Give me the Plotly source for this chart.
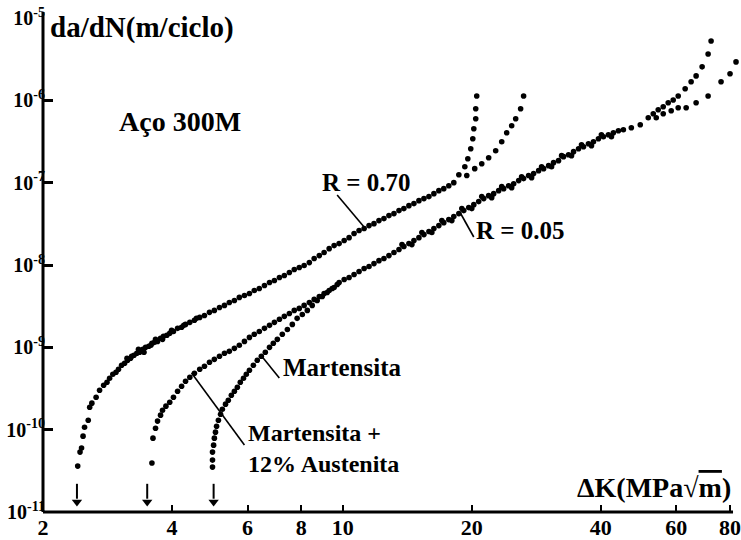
import numpy as np
import plotly.graph_objects as go

# ---- Data: ΔK (MPa√m) vs da/dN (m/ciclo), Aço 300M ----

# R = 0.70, common trunk
r070_dk = [2.41, 2.44, 2.46, 2.48, 2.50, 2.55, 2.57, 2.60, 2.66, 2.71, 2.77, 2.82, 2.86, 2.91,
           2.96, 3.00, 3.05, 3.10, 3.15, 3.20, 3.26, 3.31, 3.36, 3.42, 3.47, 3.53, 3.59, 3.64,
           3.70, 3.76, 3.82, 3.89, 3.95, 4.03, 4.12, 4.21, 4.30, 4.40, 4.51, 4.64, 4.76, 4.89,
           5.02, 5.16, 5.30, 5.44, 5.59, 5.74, 5.90, 6.06, 6.22, 6.39, 6.57, 6.75, 6.93, 7.12,
           7.31, 7.51, 7.71, 7.92, 8.13, 8.36, 8.58, 8.82, 9.05, 9.30, 9.55, 9.81, 10.08, 10.35,
           10.63, 10.92, 11.22, 11.52, 11.83, 12.15, 12.48, 12.82, 13.17, 13.53, 13.89, 14.27,
           14.66, 15.06, 15.47, 15.89, 16.32, 16.76, 17.21, 17.68, 18.16,
           3.14, 3.22, 3.34, 3.44, 3.57, 3.66, 3.80, 3.99, 4.26, 4.56]
r070_dadn = [3.61e-11, 5.34e-11, 5.97e-11, 8.34e-11, 1.07e-10, 1.30e-10, 1.87e-10, 2.10e-10,
             2.48e-10, 3.01e-10, 3.46e-10, 3.77e-10, 4.21e-10, 4.71e-10, 4.98e-10, 5.41e-10,
             6.05e-10, 6.40e-10, 6.96e-10, 7.36e-10, 8.00e-10, 8.46e-10, 8.70e-10, 9.46e-10,
             1.00e-9, 1.03e-9, 1.12e-9, 1.15e-9, 1.18e-9, 1.29e-9, 1.36e-9, 1.40e-9, 1.48e-9,
             1.56e-9, 1.70e-9, 1.75e-9, 1.90e-9, 2.01e-9, 2.13e-9, 2.31e-9, 2.44e-9, 2.66e-9,
             2.81e-9, 3.05e-9, 3.23e-9, 3.51e-9, 3.71e-9, 4.04e-9, 4.27e-9, 4.51e-9, 4.91e-9,
             5.19e-9, 5.64e-9, 6.14e-9, 6.49e-9, 7.06e-9, 7.46e-9, 8.11e-9, 8.82e-9, 9.33e-9,
             9.86e-9, 1.07e-8, 1.20e-8, 1.30e-8, 1.42e-8, 1.58e-8, 1.72e-8, 1.82e-8, 1.98e-8,
             2.15e-8, 2.41e-8, 2.62e-8, 2.77e-8, 3.01e-8, 3.18e-8, 3.46e-8, 3.66e-8, 3.98e-8,
             4.21e-8, 4.58e-8, 4.84e-8, 5.26e-8, 5.57e-8, 6.05e-8, 6.40e-8, 6.77e-8, 7.36e-8,
             8.00e-8, 8.46e-8, 9.19e-8, 1.00e-7,
             7.36e-10, 7.78e-10, 9.46e-10, 8.70e-10, 1.06e-9, 1.25e-9, 1.25e-9, 1.61e-9,
             1.85e-9, 2.25e-9]

# R = 0.70, branch that turns up near ΔK ≈ 20.5
r070_a_dk = [18.66, 19.27, 19.58, 19.89, 20.11, 20.22, 20.43, 20.43, 20.54]
r070_a_dadn = [1.25e-7, 1.56e-7, 1.95e-7, 2.58e-7, 3.41e-7, 4.51e-7, 5.97e-7, 7.89e-7, 1.13e-6]

# R = 0.70, branch that turns up near ΔK ≈ 26
r070_b_dk = [19.47, 20.32, 21.10, 21.90, 22.74, 23.49, 24.13, 24.78, 25.32, 26.00, 26.42]
r070_b_dadn = [1.22e-7, 1.48e-7, 1.70e-7, 2.01e-7, 2.44e-7, 3.14e-7, 4.04e-7, 4.91e-7, 5.97e-7,
               7.89e-7, 1.13e-6]

# R = 0.05, Martensita + 12% Austenita (near-threshold part)
aust_dk = [3.59, 3.61, 3.66, 3.70, 3.76, 3.80, 3.87, 3.95, 4.03, 4.12, 4.21, 4.30, 4.40, 4.51,
           4.64, 4.76, 4.89, 5.02, 5.16, 5.30, 5.44, 5.59, 5.74, 5.90, 6.06, 6.22, 6.39, 6.57,
           6.75, 6.93, 7.12, 7.31, 7.51, 7.71, 7.92, 8.13, 8.36, 8.58, 8.82, 9.05, 9.30, 9.55]
aust_dadn = [3.93e-11, 7.89e-11, 1.04e-10, 1.27e-10, 1.50e-10, 1.72e-10, 1.93e-10, 2.15e-10,
             2.48e-10, 2.93e-10, 3.37e-10, 3.87e-10, 4.33e-10, 4.84e-10, 5.41e-10, 5.89e-10,
             6.58e-10, 7.15e-10, 7.78e-10, 8.46e-10, 8.94e-10, 9.72e-10, 1.06e-9, 1.18e-9,
             1.32e-9, 1.44e-9, 1.56e-9, 1.70e-9, 1.85e-9, 2.01e-9, 2.19e-9, 2.38e-9, 2.58e-9,
             2.81e-9, 2.97e-9, 3.23e-9, 3.51e-9, 3.82e-9, 4.15e-9, 4.51e-9, 4.91e-9, 5.34e-9]

# R = 0.05, Martensita (near-threshold part)
mart_dk = [4.97, 4.97, 4.97, 5.00, 5.02, 5.05, 5.08, 5.13, 5.19, 5.24, 5.33, 5.41, 5.50, 5.59,
           5.68, 5.77, 5.87, 5.96, 6.06, 6.19, 6.32, 6.46, 6.60, 6.75, 6.89, 7.04, 7.23, 7.43,
           7.63, 7.83, 8.05, 8.27, 8.49, 8.72, 8.96, 9.20, 9.45, 9.71]
mart_dadn = [3.51e-11, 4.27e-11, 5.34e-11, 6.49e-11, 7.89e-11, 9.33e-11, 1.10e-10, 1.30e-10,
             1.54e-10, 1.77e-10, 2.04e-10, 2.28e-10, 2.62e-10, 2.93e-10, 3.27e-10, 3.77e-10,
             4.21e-10, 4.71e-10, 5.26e-10, 6.05e-10, 6.96e-10, 7.78e-10, 8.70e-10, 1.00e-9,
             1.12e-9, 1.25e-9, 1.44e-9, 1.65e-9, 1.90e-9, 2.25e-9, 2.51e-9, 2.81e-9, 3.23e-9,
             3.71e-9, 4.15e-9, 4.64e-9, 5.19e-9, 5.80e-9]

# R = 0.05, common band (both microstructures)
r005_dk = [9.81, 10.08, 10.35, 10.63, 10.92, 11.22, 11.52, 11.83, 12.15, 12.48, 12.82, 13.17,
           13.53, 13.89, 14.27, 14.66, 15.06, 15.47, 15.89, 16.32, 16.76, 17.21, 17.68, 18.16,
           18.66, 19.16, 19.68, 20.22, 20.76, 21.33, 21.90, 22.50, 23.11, 23.74, 24.38, 25.05,
           25.73, 26.42, 27.14, 27.88, 28.64, 29.42, 30.22, 31.03, 31.87, 32.74, 33.63, 34.55,
           35.49, 36.45, 37.43, 38.45, 39.49, 40.56, 41.66, 42.79, 43.96, 45.15, 47.12, 49.43,
           51.60, 53.01,
           13.75, 14.50, 15.30, 16.14, 17.03, 17.97, 18.96, 20.00, 21.10, 22.26, 23.49, 24.78,
           26.14, 27.58, 29.10, 30.70, 32.40, 34.17, 36.06, 38.04, 40.12, 42.34]
r005_dadn = [6.14e-9, 6.67e-9, 7.06e-9, 7.67e-9, 8.34e-9, 9.07e-9, 9.59e-9, 1.04e-8, 1.13e-8,
             1.20e-8, 1.30e-8, 1.42e-8, 1.54e-8, 1.68e-8, 1.82e-8, 1.98e-8, 2.15e-8, 2.34e-8,
             2.55e-8, 2.77e-8, 3.01e-8, 3.27e-8, 3.56e-8, 3.87e-8, 4.21e-8, 4.58e-8, 4.98e-8,
             5.41e-8, 5.89e-8, 6.40e-8, 6.96e-8, 7.36e-8, 8.00e-8, 8.46e-8, 9.19e-8, 9.72e-8,
             1.06e-7, 1.12e-7, 1.22e-7, 1.29e-7, 1.40e-7, 1.48e-7, 1.61e-7, 1.75e-7, 1.85e-7,
             2.07e-7, 2.18e-7, 2.38e-7, 2.58e-7, 2.73e-7, 2.97e-7, 3.14e-7, 3.41e-7, 3.61e-7,
             3.82e-7, 4.04e-7, 4.27e-7, 4.39e-7, 4.64e-7, 5.05e-7, 6.14e-7, 6.86e-7,
             1.77e-8, 1.77e-8, 2.48e-8, 2.48e-8, 3.46e-8, 3.46e-8, 4.84e-8, 4.84e-8, 6.77e-8,
             6.58e-8, 8.94e-8, 8.70e-8, 1.18e-7, 1.15e-7, 1.56e-7, 1.56e-7, 2.13e-7, 2.13e-7,
             2.89e-7, 2.81e-7, 3.82e-7, 3.61e-7]

# R = 0.05, steep branch ending near ΔK ≈ 72
r005_c_dk = [54.44, 55.92, 57.44, 59.00, 60.60, 62.91, 64.96, 66.72, 68.91, 71.16, 72.31]
r005_c_dadn = [7.67e-7, 8.34e-7, 9.33e-7, 1.01e-6, 1.13e-6, 1.38e-6, 1.68e-6, 1.98e-6, 2.55e-6,
               3.66e-6, 5.26e-6]

# R = 0.05, branch running on past ΔK = 80
r005_d_dk = [53.86, 55.92, 58.37, 60.60, 63.25, 66.72, 71.16, 76.28, 80.05, 82.67, 84.02]
r005_d_dadn = [6.14e-7, 6.86e-7, 7.46e-7, 8.11e-7, 8.11e-7, 9.33e-7, 1.13e-6, 1.68e-6, 2.10e-6,
               2.93e-6, 4.09e-6]

# threshold ΔK of each curve, marked by arrows
threshold_dk = [2.4, 3.5, 5.0]

# axis ticks
x_tickvals = [2, 4, 6, 8, 10, 20, 40, 60, 80]
y_tickvals = [1e-11, 1e-10, 1e-9, 1e-8, 1e-7, 1e-6, 1e-5]
y_ticktext = ["10<sup>-11</sup>", "10<sup>-10</sup>", "10<sup>-9</sup>", "10<sup>-8</sup>",
              "10<sup>-7</sup>", "10<sup>-6</sup>", "10<sup>-5</sup>"]

# ---- Figure ----
W, H = 741, 540
M_L, M_R, M_T, M_B = 43, 0, 18, 28
PLOT_W = W - M_L - M_R
PLOT_H = H - M_T - M_B
X_DECADE_PX = 430.0

FONT = "Liberation Serif"
INK = "black"

# vertical extent of the threshold arrows (da/dN axis units)
ARROW_TOP, ARROW_SHAFT_END, ARROW_HEAD = 2.2e-11, 1.45e-11, 1.32e-11


def px(x):
    """Horizontal pixel -> paper coordinate."""
    return (x - M_L) / PLOT_W


def py(y):
    """Vertical pixel (from top) -> paper coordinate."""
    return (H - M_B - y) / PLOT_H


series = [
    (r070_dk, r070_dadn), (r070_a_dk, r070_a_dadn), (r070_b_dk, r070_b_dadn),
    (aust_dk, aust_dadn), (mart_dk, mart_dadn), (r005_dk, r005_dadn),
    (r005_c_dk, r005_c_dadn), (r005_d_dk, r005_d_dadn),
]

fig = go.Figure()
for xs, ys in series:
    fig.add_trace(go.Scatter(
        x=xs, y=ys, mode="markers",
        marker=dict(color=INK, size=5.6, line=dict(width=0)),
        hoverinfo="skip", showlegend=False, cliponaxis=False,
    ))

# threshold arrows: shaft + head at each threshold ΔK
for k in threshold_dk:
    fig.add_trace(go.Scatter(
        x=[k, k], y=[ARROW_TOP, ARROW_SHAFT_END], mode="lines",
        line=dict(color=INK, width=2), hoverinfo="skip", showlegend=False,
    ))
fig.add_trace(go.Scatter(
    x=threshold_dk, y=[ARROW_HEAD] * len(threshold_dk), mode="markers",
    marker=dict(symbol="triangle-down", color=INK, size=9, line=dict(width=0)),
    hoverinfo="skip", showlegend=False,
))

x_lo = np.log10(2)
x_hi = x_lo + PLOT_W / X_DECADE_PX

fig.update_layout(
    width=W, height=H,
    margin=dict(l=M_L, r=M_R, t=M_T, b=M_B, pad=0),
    paper_bgcolor="white", plot_bgcolor="white",
    showlegend=False,
    xaxis=dict(
        type="log", range=[x_lo, x_hi],
        tickvals=x_tickvals, ticktext=[str(v) for v in x_tickvals],
        ticks="inside", ticklen=7, tickwidth=2, tickcolor=INK,
        showgrid=False, zeroline=False, showline=False,
        ticklabeloverflow="allow",
        tickfont=dict(family=FONT, size=22, color=INK, weight="bold"),
    ),
    yaxis=dict(
        type="log", range=[-11, -5],
        tickvals=y_tickvals, ticktext=y_ticktext,
        ticks="inside", ticklen=10, tickwidth=2.5, tickcolor=INK,
        showgrid=False, zeroline=False, showline=False,
        ticklabelstandoff=-3, ticklabeloverflow="allow",
        tickfont=dict(family=FONT, size=20, color=INK, weight="bold"),
    ),
)

# axis lines
fig.add_shape(type="line", xref="paper", yref="paper",
              x0=0, x1=0, y0=0, y1=py(12), line=dict(color=INK, width=3))
fig.add_shape(type="line", xref="paper", yref="paper",
              x0=0, x1=px(735), y0=0, y1=0, line=dict(color=INK, width=3))

# leader lines from labels to curves
leaders = [
    ((338, 195), (365, 227)),   # R = 0.70
    ((461, 212), (475, 237)),   # R = 0.05
    ((263, 357), (280, 378)),   # Martensita
    ((192, 373), (245, 445)),   # Martensita + 12% Austenita
]
for (xa, ya), (xb, yb) in leaders:
    fig.add_shape(type="line", xref="paper", yref="paper",
                  x0=px(xa), y0=py(ya), x1=px(xb), y1=py(yb),
                  line=dict(color=INK, width=1.6))


def label(text, x, y, size, xanchor="center", align="center"):
    fig.add_annotation(
        x=px(x), y=py(y), xref="paper", yref="paper",
        text=text, showarrow=False, xanchor=xanchor, yanchor="middle", align=align,
        font=dict(family=FONT, size=size, color=INK, weight="bold"),
    )


label("da/dN(m/ciclo)", 48, 27, 29, xanchor="left")
label("Aço 300M", 180, 121, 28)
label("R = 0.70", 367, 182, 25)
label("R = 0.05", 522, 230, 25)
label("Martensita", 282, 367, 25, xanchor="left")
label("Martensita +<br>12% Austenita", 247, 448, 24, xanchor="left", align="left")
label("ΔK(MPa√<span style='text-decoration:overline'>m</span>)", 735, 487, 28,
      xanchor="right")

fig.write_html("out.html")
